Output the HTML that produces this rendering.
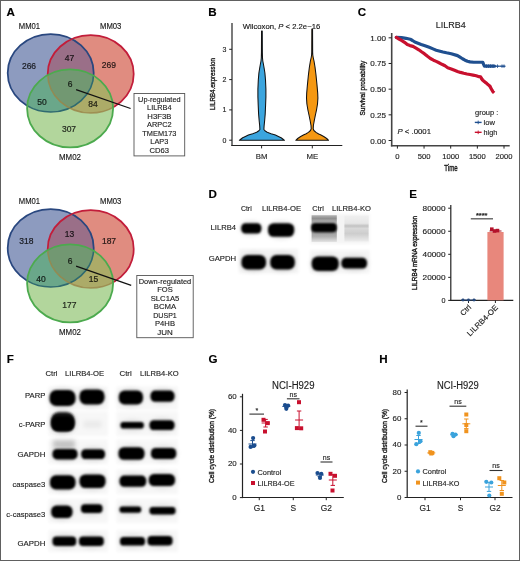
<!DOCTYPE html><html><head><meta charset="utf-8"><style>html,body{margin:0;padding:0;background:#fff;}svg{display:block;font-family:"Liberation Sans",sans-serif;opacity:0.999;}text{stroke:currentColor;stroke-width:0.14px;}</style></head><body>
<svg width="520" height="561" viewBox="0 0 520 561">
<defs><filter id="bl" x="-30%" y="-60%" width="160%" height="220%"><feGaussianBlur stdDeviation="1.1"/></filter><filter id="bl2" x="-30%" y="-60%" width="160%" height="220%"><feGaussianBlur stdDeviation="2.2"/></filter><filter id="bl3" x="-30%" y="-60%" width="160%" height="220%"><feGaussianBlur stdDeviation="0.6"/></filter><filter id="bl4" x="-30%" y="-60%" width="160%" height="220%"><feGaussianBlur stdDeviation="1.6"/></filter></defs>
<rect x="0.00" y="0.00" width="520.00" height="561.00" fill="#ffffff"/>
<text x="6.60" y="16.20" font-size="11.6" font-weight="bold" fill="#000" color="#000">A</text>
<text x="208.30" y="16.20" font-size="11.6" font-weight="bold" fill="#000" color="#000">B</text>
<text x="357.70" y="16.20" font-size="11.6" font-weight="bold" fill="#000" color="#000">C</text>
<text x="208.50" y="197.70" font-size="11.6" font-weight="bold" fill="#000" color="#000">D</text>
<text x="409.30" y="198.20" font-size="11.6" font-weight="bold" fill="#000" color="#000">E</text>
<text x="6.80" y="362.60" font-size="11.6" font-weight="bold" fill="#000" color="#000">F</text>
<text x="208.40" y="363.00" font-size="11.6" font-weight="bold" fill="#000" color="#000">G</text>
<text x="379.20" y="363.00" font-size="11.6" font-weight="bold" fill="#000" color="#000">H</text>
<clipPath id="cbt"><ellipse cx="50.7" cy="73.00" rx="43.0" ry="39.0"/></clipPath>
<clipPath id="crt"><ellipse cx="90.7" cy="74.10" rx="43.0" ry="39.0"/></clipPath>
<ellipse cx="50.7" cy="73.00" rx="43.0" ry="39.0" fill="#8d9bbf"/>
<ellipse cx="90.7" cy="74.10" rx="43.0" ry="39.0" fill="#e08c80"/>
<ellipse cx="70.1" cy="108.40" rx="43.0" ry="39.0" fill="#b2d69c"/>
<g clip-path="url(#cbt)"><ellipse cx="90.7" cy="74.10" rx="43.0" ry="39.0" fill="#9a6f88"/><ellipse cx="70.1" cy="108.40" rx="43.0" ry="39.0" fill="#6aa78a"/></g>
<g clip-path="url(#crt)"><ellipse cx="70.1" cy="108.40" rx="43.0" ry="39.0" fill="#acab68"/><g clip-path="url(#cbt)"><ellipse cx="70.1" cy="108.40" rx="43.0" ry="39.0" fill="#729872"/></g></g>
<mask id="mgt" maskUnits="userSpaceOnUse" x="0" y="0" width="520" height="561"><rect x="0" y="0" width="520" height="561" fill="#fff"/><ellipse cx="70.1" cy="108.40" rx="43.0" ry="39.0" fill="#000"/></mask>
<clipPath id="cgt"><ellipse cx="70.1" cy="108.40" rx="43.0" ry="39.0"/></clipPath>
<g mask="url(#mgt)"><ellipse cx="50.7" cy="73.00" rx="43.0" ry="39.0" fill="none" stroke="#29477f" stroke-width="1.75"/><ellipse cx="90.7" cy="74.10" rx="43.0" ry="39.0" fill="none" stroke="#c21d3a" stroke-width="1.75"/></g>
<g clip-path="url(#cgt)" opacity="1"><ellipse cx="50.7" cy="73.00" rx="43.0" ry="39.0" fill="none" stroke="#2f6a70" stroke-width="1.6"/><ellipse cx="90.7" cy="74.10" rx="43.0" ry="39.0" fill="none" stroke="#9a8448" stroke-width="1.5" stroke-opacity="0.8"/></g>
<ellipse cx="70.1" cy="108.40" rx="43.0" ry="39.0" fill="none" stroke="#4caa4e" stroke-width="1.8"/>
<text x="18.80" y="28.90" font-size="8.4" textLength="21.30" lengthAdjust="spacingAndGlyphs" fill="#1a1a1a" color="#1a1a1a">MM01</text>
<text x="100.00" y="28.90" font-size="8.4" textLength="21.40" lengthAdjust="spacingAndGlyphs" fill="#1a1a1a" color="#1a1a1a">MM03</text>
<text x="59.00" y="160.00" font-size="8.4" textLength="22.00" lengthAdjust="spacingAndGlyphs" fill="#1a1a1a" color="#1a1a1a">MM02</text>
<text x="29.00" y="69.00" font-size="8.5" text-anchor="middle" fill="#000" color="#000" style="stroke-width:0.22px" fill-opacity="0.78" stroke-opacity="0.78">266</text>
<text x="69.60" y="61.20" font-size="8.5" text-anchor="middle" fill="#000" color="#000" style="stroke-width:0.22px" fill-opacity="0.78" stroke-opacity="0.78">47</text>
<text x="108.90" y="68.10" font-size="8.5" text-anchor="middle" fill="#000" color="#000" style="stroke-width:0.22px" fill-opacity="0.78" stroke-opacity="0.78">269</text>
<text x="70.00" y="87.40" font-size="8.5" text-anchor="middle" fill="#000" color="#000" style="stroke-width:0.22px" fill-opacity="0.78" stroke-opacity="0.78">6</text>
<text x="42.00" y="105.00" font-size="8.5" text-anchor="middle" fill="#000" color="#000" style="stroke-width:0.22px" fill-opacity="0.78" stroke-opacity="0.78">50</text>
<text x="93.10" y="106.70" font-size="8.5" text-anchor="middle" fill="#000" color="#000" style="stroke-width:0.22px" fill-opacity="0.78" stroke-opacity="0.78">84</text>
<text x="69.00" y="132.20" font-size="8.5" text-anchor="middle" fill="#000" color="#000" style="stroke-width:0.22px" fill-opacity="0.78" stroke-opacity="0.78">307</text>
<line x1="76.10" y1="89.70" x2="130.60" y2="108.50" stroke="#111" stroke-width="1.25"/>
<rect x="134.00" y="93.50" width="50.70" height="62.40" fill="#fff" stroke="#555" stroke-width="0.9"/>
<text x="159.35" y="101.60" font-size="7.9" text-anchor="middle" textLength="42.50" lengthAdjust="spacingAndGlyphs" fill="#1e1e1e" color="#1e1e1e">Up-regulated</text>
<text x="159.35" y="110.15" font-size="7.9" text-anchor="middle" textLength="24.50" lengthAdjust="spacingAndGlyphs" fill="#1e1e1e" color="#1e1e1e">LILRB4</text>
<text x="159.35" y="118.70" font-size="7.9" text-anchor="middle" textLength="24.00" lengthAdjust="spacingAndGlyphs" fill="#1e1e1e" color="#1e1e1e">H3F3B</text>
<text x="159.35" y="127.25" font-size="7.9" text-anchor="middle" textLength="24.50" lengthAdjust="spacingAndGlyphs" fill="#1e1e1e" color="#1e1e1e">ARPC2</text>
<text x="159.35" y="135.80" font-size="7.9" text-anchor="middle" textLength="34.00" lengthAdjust="spacingAndGlyphs" fill="#1e1e1e" color="#1e1e1e">TMEM173</text>
<text x="159.35" y="144.35" font-size="7.9" text-anchor="middle" textLength="18.00" lengthAdjust="spacingAndGlyphs" fill="#1e1e1e" color="#1e1e1e">LAP3</text>
<text x="159.35" y="152.90" font-size="7.9" text-anchor="middle" textLength="19.50" lengthAdjust="spacingAndGlyphs" fill="#1e1e1e" color="#1e1e1e">CD63</text>
<clipPath id="cbb"><ellipse cx="50.7" cy="248.00" rx="43.0" ry="39.0"/></clipPath>
<clipPath id="crb"><ellipse cx="90.7" cy="249.10" rx="43.0" ry="39.0"/></clipPath>
<ellipse cx="50.7" cy="248.00" rx="43.0" ry="39.0" fill="#8d9bbf"/>
<ellipse cx="90.7" cy="249.10" rx="43.0" ry="39.0" fill="#e08c80"/>
<ellipse cx="70.1" cy="283.40" rx="43.0" ry="39.0" fill="#b2d69c"/>
<g clip-path="url(#cbb)"><ellipse cx="90.7" cy="249.10" rx="43.0" ry="39.0" fill="#9a6f88"/><ellipse cx="70.1" cy="283.40" rx="43.0" ry="39.0" fill="#6aa78a"/></g>
<g clip-path="url(#crb)"><ellipse cx="70.1" cy="283.40" rx="43.0" ry="39.0" fill="#acab68"/><g clip-path="url(#cbb)"><ellipse cx="70.1" cy="283.40" rx="43.0" ry="39.0" fill="#729872"/></g></g>
<mask id="mgb" maskUnits="userSpaceOnUse" x="0" y="0" width="520" height="561"><rect x="0" y="0" width="520" height="561" fill="#fff"/><ellipse cx="70.1" cy="283.40" rx="43.0" ry="39.0" fill="#000"/></mask>
<clipPath id="cgb"><ellipse cx="70.1" cy="283.40" rx="43.0" ry="39.0"/></clipPath>
<g mask="url(#mgb)"><ellipse cx="50.7" cy="248.00" rx="43.0" ry="39.0" fill="none" stroke="#29477f" stroke-width="1.75"/><ellipse cx="90.7" cy="249.10" rx="43.0" ry="39.0" fill="none" stroke="#c21d3a" stroke-width="1.75"/></g>
<g clip-path="url(#cgb)" opacity="1"><ellipse cx="50.7" cy="248.00" rx="43.0" ry="39.0" fill="none" stroke="#2f6a70" stroke-width="1.6"/><ellipse cx="90.7" cy="249.10" rx="43.0" ry="39.0" fill="none" stroke="#9a8448" stroke-width="1.5" stroke-opacity="0.8"/></g>
<ellipse cx="70.1" cy="283.40" rx="43.0" ry="39.0" fill="none" stroke="#4caa4e" stroke-width="1.8"/>
<text x="18.80" y="203.90" font-size="8.4" textLength="21.30" lengthAdjust="spacingAndGlyphs" fill="#1a1a1a" color="#1a1a1a">MM01</text>
<text x="100.00" y="203.90" font-size="8.4" textLength="21.40" lengthAdjust="spacingAndGlyphs" fill="#1a1a1a" color="#1a1a1a">MM03</text>
<text x="59.00" y="335.00" font-size="8.4" textLength="22.00" lengthAdjust="spacingAndGlyphs" fill="#1a1a1a" color="#1a1a1a">MM02</text>
<text x="26.30" y="244.20" font-size="8.5" text-anchor="middle" fill="#000" color="#000" style="stroke-width:0.22px" fill-opacity="0.78" stroke-opacity="0.78">318</text>
<text x="69.60" y="237.20" font-size="8.5" text-anchor="middle" fill="#000" color="#000" style="stroke-width:0.22px" fill-opacity="0.78" stroke-opacity="0.78">13</text>
<text x="109.00" y="243.70" font-size="8.5" text-anchor="middle" fill="#000" color="#000" style="stroke-width:0.22px" fill-opacity="0.78" stroke-opacity="0.78">187</text>
<text x="70.00" y="263.70" font-size="8.5" text-anchor="middle" fill="#000" color="#000" style="stroke-width:0.22px" fill-opacity="0.78" stroke-opacity="0.78">6</text>
<text x="41.10" y="281.70" font-size="8.5" text-anchor="middle" fill="#000" color="#000" style="stroke-width:0.22px" fill-opacity="0.78" stroke-opacity="0.78">40</text>
<text x="93.50" y="282.00" font-size="8.5" text-anchor="middle" fill="#000" color="#000" style="stroke-width:0.22px" fill-opacity="0.78" stroke-opacity="0.78">15</text>
<text x="69.40" y="308.00" font-size="8.5" text-anchor="middle" fill="#000" color="#000" style="stroke-width:0.22px" fill-opacity="0.78" stroke-opacity="0.78">177</text>
<line x1="76.10" y1="266.20" x2="131.20" y2="285.30" stroke="#111" stroke-width="1.25"/>
<rect x="136.80" y="275.50" width="56.40" height="62.20" fill="#fff" stroke="#555" stroke-width="0.9"/>
<text x="165.00" y="283.60" font-size="7.9" text-anchor="middle" textLength="52.50" lengthAdjust="spacingAndGlyphs" fill="#1e1e1e" color="#1e1e1e">Down-regulated</text>
<text x="165.00" y="292.15" font-size="7.9" text-anchor="middle" textLength="15.50" lengthAdjust="spacingAndGlyphs" fill="#1e1e1e" color="#1e1e1e">FOS</text>
<text x="165.00" y="300.70" font-size="7.9" text-anchor="middle" textLength="28.50" lengthAdjust="spacingAndGlyphs" fill="#1e1e1e" color="#1e1e1e">SLC1A5</text>
<text x="165.00" y="309.25" font-size="7.9" text-anchor="middle" textLength="22.50" lengthAdjust="spacingAndGlyphs" fill="#1e1e1e" color="#1e1e1e">BCMA</text>
<text x="165.00" y="317.80" font-size="7.9" text-anchor="middle" textLength="23.50" lengthAdjust="spacingAndGlyphs" fill="#1e1e1e" color="#1e1e1e">DUSP1</text>
<text x="165.00" y="326.35" font-size="7.9" text-anchor="middle" textLength="20.00" lengthAdjust="spacingAndGlyphs" fill="#1e1e1e" color="#1e1e1e">P4HB</text>
<text x="165.00" y="334.90" font-size="7.9" text-anchor="middle" textLength="15.50" lengthAdjust="spacingAndGlyphs" fill="#1e1e1e" color="#1e1e1e">JUN</text>
<line x1="232.00" y1="23.00" x2="232.00" y2="146.10" stroke="#222" stroke-width="1.2"/>
<line x1="231.40" y1="145.50" x2="342.30" y2="145.50" stroke="#222" stroke-width="1.2"/>
<line x1="229.20" y1="140.20" x2="232.00" y2="140.20" stroke="#222" stroke-width="1"/>
<text x="226.30" y="142.60" font-size="7.0" text-anchor="end" fill="#1e1e1e" color="#1e1e1e">0</text>
<line x1="229.20" y1="109.90" x2="232.00" y2="109.90" stroke="#222" stroke-width="1"/>
<text x="226.30" y="112.30" font-size="7.0" text-anchor="end" fill="#1e1e1e" color="#1e1e1e">1</text>
<line x1="229.20" y1="79.60" x2="232.00" y2="79.60" stroke="#222" stroke-width="1"/>
<text x="226.30" y="82.00" font-size="7.0" text-anchor="end" fill="#1e1e1e" color="#1e1e1e">2</text>
<line x1="229.20" y1="49.30" x2="232.00" y2="49.30" stroke="#222" stroke-width="1"/>
<text x="226.30" y="51.70" font-size="7.0" text-anchor="end" fill="#1e1e1e" color="#1e1e1e">3</text>
<line x1="261.60" y1="145.50" x2="261.60" y2="148.40" stroke="#222" stroke-width="1"/>
<text x="261.60" y="158.80" font-size="7.8" text-anchor="middle" fill="#1e1e1e" color="#1e1e1e">BM</text>
<line x1="312.30" y1="145.50" x2="312.30" y2="148.40" stroke="#222" stroke-width="1"/>
<text x="312.30" y="158.80" font-size="7.8" text-anchor="middle" fill="#1e1e1e" color="#1e1e1e">ME</text>
<text transform="translate(215.2,84.1) rotate(-90)" font-size="7.2" text-anchor="middle" fill="#1a1a1a" color="#1a1a1a" style="stroke-width:0.35px" textLength="52" lengthAdjust="spacingAndGlyphs">LILRB4.expression</text>
<text x="242.8" y="28.7" font-size="7.6" fill="#222" textLength="77.4" lengthAdjust="spacingAndGlyphs">Wilcoxon, <tspan font-style="italic">P</tspan> &lt; 2.2e−16</text>
<path d="M261.55,31.10 L261.45,52.00 L261.30,58.00 L261.00,61.00 L260.40,64.00 L259.70,68.00 L258.90,73.00 L258.30,80.00 L257.90,89.00 L257.90,97.00 L258.20,105.00 L258.60,114.00 L259.10,120.00 L259.70,126.00 L259.90,129.50 L258.90,130.80 L256.60,132.30 L252.70,133.70 L248.40,135.10 L245.40,136.50 L242.70,137.80 L240.70,139.20 L239.30,140.30 L284.50,140.30 L283.10,139.20 L281.10,137.80 L278.40,136.50 L275.40,135.10 L271.10,133.70 L267.20,132.30 L264.90,130.80 L263.90,129.50 L264.10,126.00 L264.70,120.00 L265.20,114.00 L265.60,105.00 L265.90,97.00 L265.90,89.00 L265.50,80.00 L264.90,73.00 L264.10,68.00 L263.40,64.00 L262.80,61.00 L262.50,58.00 L262.35,52.00 L262.25,31.10 Z" fill="#3ba5de" stroke="#111" stroke-width="1.05" stroke-linejoin="round"/>
<path d="M311.85,28.90 L311.75,52.00 L311.60,55.00 L311.20,57.50 L310.40,61.00 L309.40,67.00 L308.40,75.00 L307.40,85.00 L306.70,93.00 L306.50,98.00 L306.90,104.00 L307.90,110.00 L309.20,116.00 L310.20,121.00 L311.00,125.50 L311.20,128.80 L310.50,130.50 L308.40,132.40 L305.70,134.00 L303.90,134.80 L300.70,136.50 L297.70,138.50 L295.80,140.30 L328.60,140.30 L326.70,138.50 L323.70,136.50 L320.50,134.80 L318.70,134.00 L316.00,132.40 L313.90,130.50 L313.20,128.80 L313.40,125.50 L314.20,121.00 L315.20,116.00 L316.50,110.00 L317.50,104.00 L317.90,98.00 L317.70,93.00 L317.00,85.00 L316.00,75.00 L315.00,67.00 L314.00,61.00 L313.20,57.50 L312.80,55.00 L312.65,52.00 L312.55,28.90 Z" fill="#f59812" stroke="#111" stroke-width="1.05" stroke-linejoin="round"/>
<line x1="391.70" y1="33.00" x2="391.70" y2="146.40" stroke="#444" stroke-width="1.6"/>
<line x1="390.90" y1="145.80" x2="509.70" y2="145.80" stroke="#444" stroke-width="1.6"/>
<line x1="388.60" y1="140.50" x2="391.60" y2="140.50" stroke="#222" stroke-width="1"/>
<text x="370.30" y="143.50" font-size="7.4" textLength="15.80" lengthAdjust="spacingAndGlyphs" fill="#1e1e1e" color="#1e1e1e">0.00</text>
<line x1="388.60" y1="114.83" x2="391.60" y2="114.83" stroke="#222" stroke-width="1"/>
<text x="370.30" y="117.83" font-size="7.4" textLength="15.80" lengthAdjust="spacingAndGlyphs" fill="#1e1e1e" color="#1e1e1e">0.25</text>
<line x1="388.60" y1="89.16" x2="391.60" y2="89.16" stroke="#222" stroke-width="1"/>
<text x="370.30" y="92.16" font-size="7.4" textLength="15.80" lengthAdjust="spacingAndGlyphs" fill="#1e1e1e" color="#1e1e1e">0.50</text>
<line x1="388.60" y1="63.49" x2="391.60" y2="63.49" stroke="#222" stroke-width="1"/>
<text x="370.30" y="66.49" font-size="7.4" textLength="15.80" lengthAdjust="spacingAndGlyphs" fill="#1e1e1e" color="#1e1e1e">0.75</text>
<line x1="388.60" y1="37.82" x2="391.60" y2="37.82" stroke="#222" stroke-width="1"/>
<text x="370.30" y="40.82" font-size="7.4" textLength="15.80" lengthAdjust="spacingAndGlyphs" fill="#1e1e1e" color="#1e1e1e">1.00</text>
<line x1="397.40" y1="145.80" x2="397.40" y2="148.60" stroke="#222" stroke-width="1"/>
<text x="395.25" y="158.90" font-size="7.3" textLength="4.30" lengthAdjust="spacingAndGlyphs" fill="#1e1e1e" color="#1e1e1e">0</text>
<line x1="424.05" y1="145.80" x2="424.05" y2="148.60" stroke="#222" stroke-width="1"/>
<text x="417.65" y="158.90" font-size="7.3" textLength="12.80" lengthAdjust="spacingAndGlyphs" fill="#1e1e1e" color="#1e1e1e">500</text>
<line x1="450.70" y1="145.80" x2="450.70" y2="148.60" stroke="#222" stroke-width="1"/>
<text x="442.25" y="158.90" font-size="7.3" textLength="16.90" lengthAdjust="spacingAndGlyphs" fill="#1e1e1e" color="#1e1e1e">1000</text>
<line x1="477.35" y1="145.80" x2="477.35" y2="148.60" stroke="#222" stroke-width="1"/>
<text x="468.90" y="158.90" font-size="7.3" textLength="16.90" lengthAdjust="spacingAndGlyphs" fill="#1e1e1e" color="#1e1e1e">1500</text>
<line x1="504.00" y1="145.80" x2="504.00" y2="148.60" stroke="#222" stroke-width="1"/>
<text x="495.55" y="158.90" font-size="7.3" textLength="16.90" lengthAdjust="spacingAndGlyphs" fill="#1e1e1e" color="#1e1e1e">2000</text>
<text x="444.30" y="170.80" font-size="9.2" textLength="13.30" lengthAdjust="spacingAndGlyphs" fill="#1a1a1a" color="#1a1a1a" style="stroke-width:0.4px">Time</text>
<text transform="translate(365.2,88.1) rotate(-90)" font-size="8" text-anchor="middle" fill="#1a1a1a" color="#1a1a1a" style="stroke-width:0.35px" textLength="55" lengthAdjust="spacingAndGlyphs">Survival probability</text>
<text x="435.70" y="27.60" font-size="9.6" textLength="30.00" lengthAdjust="spacingAndGlyphs" fill="#1e1e1e" color="#1e1e1e">LILRB4</text>
<text x="397.5" y="134.2" font-size="8" fill="#222" textLength="33.5" lengthAdjust="spacingAndGlyphs"><tspan font-style="italic">P</tspan> &lt; .0001</text>
<text x="475.00" y="115.30" font-size="7.4" textLength="23.40" lengthAdjust="spacingAndGlyphs" fill="#1e1e1e" color="#1e1e1e">group :</text>
<text x="483.60" y="124.90" font-size="7.4" textLength="11.40" lengthAdjust="spacingAndGlyphs" fill="#1e1e1e" color="#1e1e1e">low</text>
<text x="483.60" y="134.80" font-size="7.4" textLength="13.70" lengthAdjust="spacingAndGlyphs" fill="#1e1e1e" color="#1e1e1e">high</text>
<line x1="474.80" y1="122.40" x2="481.60" y2="122.40" stroke="#1f4f8f" stroke-width="1.4"/>
<line x1="478.20" y1="120.60" x2="478.20" y2="124.20" stroke="#1f4f8f" stroke-width="0.9"/>
<line x1="474.80" y1="132.30" x2="481.60" y2="132.30" stroke="#c8102e" stroke-width="1.4"/>
<line x1="478.20" y1="130.50" x2="478.20" y2="134.10" stroke="#c8102e" stroke-width="0.9"/>
<line x1="494.00" y1="66.20" x2="505.00" y2="66.20" stroke="#1f4f8f" stroke-width="1.1"/>
<path d="M396.30,37.40 L401.50,37.70 L406.00,38.30 L410.20,39.20 L412.50,40.50 L414.80,42.00 L418.00,43.20 L421.20,44.40 L425.00,45.70 L429.20,47.30 L433.00,48.90 L436.20,50.20 L440.00,51.20 L443.00,52.00 L446.50,52.80 L451.25,53.75 L457.50,55.60 L460.00,57.20 L462.50,58.75 L465.00,60.20 L467.50,61.25 L470.00,61.90 L473.75,62.25 L482.80,62.25 L483.60,64.40 L484.40,66.20 L494.50,66.20" fill="none" stroke="#1f4f8f" stroke-width="3.2" stroke-linejoin="round" stroke-linecap="round"/>
<path d="M396.30,37.40 L399.00,39.00 L401.50,40.40 L404.50,42.30 L407.30,44.60 L410.00,45.60 L413.00,46.40 L416.00,48.10 L418.80,49.80 L421.50,51.80 L424.60,53.90 L427.50,56.30 L430.40,58.50 L433.50,60.20 L436.20,61.40 L439.00,62.80 L441.90,64.30 L445.00,65.80 L447.70,67.70 L451.25,68.90 L454.50,70.20 L457.50,71.40 L460.50,72.40 L463.75,73.30 L467.00,74.00 L470.00,74.55 L473.00,75.10 L476.25,75.80 L479.00,76.70 L480.60,76.90 L481.50,78.50 L482.50,80.00 L484.30,81.50 L486.25,83.10 L488.00,84.60 L490.00,86.25 L490.80,88.00 L491.90,90.00 L493.10,92.00" fill="none" stroke="#c8102e" stroke-width="3.2" stroke-linejoin="round" stroke-linecap="round"/>
<line x1="484.70" y1="66.20" x2="488.30" y2="66.20" stroke="#1f4f8f" stroke-width="0.8"/>
<line x1="486.50" y1="64.40" x2="486.50" y2="68.00" stroke="#1f4f8f" stroke-width="0.8"/>
<line x1="486.70" y1="66.20" x2="490.30" y2="66.20" stroke="#1f4f8f" stroke-width="0.8"/>
<line x1="488.50" y1="64.40" x2="488.50" y2="68.00" stroke="#1f4f8f" stroke-width="0.8"/>
<line x1="488.70" y1="66.20" x2="492.30" y2="66.20" stroke="#1f4f8f" stroke-width="0.8"/>
<line x1="490.50" y1="64.40" x2="490.50" y2="68.00" stroke="#1f4f8f" stroke-width="0.8"/>
<line x1="491.20" y1="66.20" x2="494.80" y2="66.20" stroke="#1f4f8f" stroke-width="0.8"/>
<line x1="493.00" y1="64.40" x2="493.00" y2="68.00" stroke="#1f4f8f" stroke-width="0.8"/>
<line x1="495.70" y1="66.20" x2="499.30" y2="66.20" stroke="#1f4f8f" stroke-width="0.8"/>
<line x1="497.50" y1="64.40" x2="497.50" y2="68.00" stroke="#1f4f8f" stroke-width="0.8"/>
<line x1="500.20" y1="66.20" x2="503.80" y2="66.20" stroke="#1f4f8f" stroke-width="0.8"/>
<line x1="502.00" y1="64.40" x2="502.00" y2="68.00" stroke="#1f4f8f" stroke-width="0.8"/>
<line x1="502.20" y1="66.20" x2="505.80" y2="66.20" stroke="#1f4f8f" stroke-width="0.8"/>
<line x1="504.00" y1="64.40" x2="504.00" y2="68.00" stroke="#1f4f8f" stroke-width="0.8"/>
<line x1="480.40" y1="79.00" x2="483.60" y2="79.00" stroke="#c8102e" stroke-width="0.8"/>
<line x1="482.00" y1="77.40" x2="482.00" y2="80.60" stroke="#c8102e" stroke-width="0.8"/>
<line x1="482.90" y1="81.80" x2="486.10" y2="81.80" stroke="#c8102e" stroke-width="0.8"/>
<line x1="484.50" y1="80.20" x2="484.50" y2="83.40" stroke="#c8102e" stroke-width="0.8"/>
<line x1="485.20" y1="83.60" x2="488.40" y2="83.60" stroke="#c8102e" stroke-width="0.8"/>
<line x1="486.80" y1="82.00" x2="486.80" y2="85.20" stroke="#c8102e" stroke-width="0.8"/>
<line x1="487.10" y1="85.20" x2="490.30" y2="85.20" stroke="#c8102e" stroke-width="0.8"/>
<line x1="488.70" y1="83.60" x2="488.70" y2="86.80" stroke="#c8102e" stroke-width="0.8"/>
<line x1="488.90" y1="87.50" x2="492.10" y2="87.50" stroke="#c8102e" stroke-width="0.8"/>
<line x1="490.50" y1="85.90" x2="490.50" y2="89.10" stroke="#c8102e" stroke-width="0.8"/>
<line x1="490.10" y1="89.50" x2="493.30" y2="89.50" stroke="#c8102e" stroke-width="0.8"/>
<line x1="491.70" y1="87.90" x2="491.70" y2="91.10" stroke="#c8102e" stroke-width="0.8"/>
<line x1="491.90" y1="91.50" x2="495.10" y2="91.50" stroke="#c8102e" stroke-width="0.8"/>
<line x1="493.50" y1="89.90" x2="493.50" y2="93.10" stroke="#c8102e" stroke-width="0.8"/>
<text x="240.90" y="211.00" font-size="7.6" textLength="10.80" lengthAdjust="spacingAndGlyphs" fill="#1e1e1e" color="#1e1e1e">Ctrl</text>
<text x="261.90" y="211.00" font-size="7.6" textLength="39.10" lengthAdjust="spacingAndGlyphs" fill="#1e1e1e" color="#1e1e1e">LILRB4-OE</text>
<text x="312.30" y="211.00" font-size="7.6" textLength="11.50" lengthAdjust="spacingAndGlyphs" fill="#1e1e1e" color="#1e1e1e">Ctrl</text>
<text x="332.00" y="211.00" font-size="7.6" textLength="39.00" lengthAdjust="spacingAndGlyphs" fill="#1e1e1e" color="#1e1e1e">LILRB4-KO</text>
<text x="236.00" y="229.90" font-size="7.9" text-anchor="end" textLength="25.40" lengthAdjust="spacingAndGlyphs" fill="#1e1e1e" color="#1e1e1e">LILRB4</text>
<text x="236.20" y="261.10" font-size="7.9" text-anchor="end" textLength="27.50" lengthAdjust="spacingAndGlyphs" fill="#1e1e1e" color="#1e1e1e">GAPDH</text>
<rect x="239.00" y="249.00" width="59.30" height="24.30" fill="#f3f3f3" filter="url(#bl4)"/>
<rect x="310.40" y="214.00" width="59.20" height="29.70" fill="#f4f4f4" filter="url(#bl4)"/>
<rect x="310.00" y="250.00" width="59.60" height="23.30" fill="#f5f5f5" filter="url(#bl4)"/>
<ellipse cx="251.30" cy="228.30" rx="11.60" ry="7.60" fill="#000" fill-opacity="0.10" filter="url(#bl2)"/>
<rect x="241.20" y="223.20" width="20.20" height="10.20" rx="4.28" fill="#000" fill-opacity="1.0" filter="url(#bl)"/>
<ellipse cx="281.10" cy="230.00" rx="14.60" ry="9.30" fill="#000" fill-opacity="0.10" filter="url(#bl2)"/>
<rect x="268.00" y="223.20" width="26.20" height="13.60" rx="5.71" fill="#000" fill-opacity="1.0" filter="url(#bl)"/>
<ellipse cx="253.75" cy="262.30" rx="13.75" ry="9.80" fill="#000" fill-opacity="0.10" filter="url(#bl2)"/>
<rect x="241.50" y="255.00" width="24.50" height="14.60" rx="6.13" fill="#000" fill-opacity="1.0" filter="url(#bl)"/>
<ellipse cx="282.55" cy="262.30" rx="13.75" ry="9.80" fill="#000" fill-opacity="0.10" filter="url(#bl2)"/>
<rect x="270.30" y="255.00" width="24.50" height="14.60" rx="6.13" fill="#000" fill-opacity="1.0" filter="url(#bl)"/>
<linearGradient id="gko1" x1="0" y1="0" x2="0" y2="1"><stop offset="0" stop-color="#b4b4b4"/><stop offset="0.12" stop-color="#8e8e8e"/><stop offset="0.3" stop-color="#bdbdbd"/><stop offset="0.6" stop-color="#9a9a9a"/><stop offset="0.8" stop-color="#b0b0b0"/><stop offset="1" stop-color="#e4e4e4"/></linearGradient>
<linearGradient id="gko2" x1="0" y1="0" x2="0" y2="1"><stop offset="0" stop-color="#f0f0f0"/><stop offset="0.3" stop-color="#e6e6e6"/><stop offset="0.4" stop-color="#c2c2c2"/><stop offset="0.5" stop-color="#d8d8d8"/><stop offset="0.7" stop-color="#cdcdcd"/><stop offset="1" stop-color="#ececec"/></linearGradient>
<rect x="311.6" y="215.2" width="25.2" height="26.8" fill="url(#gko1)" filter="url(#bl3)"/>
<rect x="344.4" y="215.5" width="24.2" height="26.0" fill="url(#gko2)" filter="url(#bl3)"/>
<rect x="311.20" y="223.00" width="25.60" height="9.20" rx="3.86" fill="#000" fill-opacity="1.0" filter="url(#bl)"/>
<ellipse cx="325.20" cy="263.70" rx="15.00" ry="9.80" fill="#000" fill-opacity="0.10" filter="url(#bl2)"/>
<rect x="311.70" y="256.40" width="27.00" height="14.60" rx="6.13" fill="#000" fill-opacity="1.0" filter="url(#bl)"/>
<ellipse cx="354.20" cy="263.20" rx="14.30" ry="7.90" fill="#000" fill-opacity="0.10" filter="url(#bl2)"/>
<rect x="341.40" y="257.80" width="25.60" height="10.80" rx="4.54" fill="#000" fill-opacity="1.0" filter="url(#bl)"/>
<line x1="450.80" y1="205.00" x2="450.80" y2="300.90" stroke="#222" stroke-width="1.2"/>
<line x1="450.20" y1="300.30" x2="513.30" y2="300.30" stroke="#222" stroke-width="1.2"/>
<line x1="448.20" y1="300.40" x2="450.80" y2="300.40" stroke="#222" stroke-width="1"/>
<text x="445.50" y="302.90" font-size="7.2" text-anchor="end" fill="#1e1e1e" color="#1e1e1e">0</text>
<line x1="448.20" y1="277.35" x2="450.80" y2="277.35" stroke="#222" stroke-width="1"/>
<text x="422.60" y="279.85" font-size="7.2" textLength="22.90" lengthAdjust="spacingAndGlyphs" fill="#1e1e1e" color="#1e1e1e">20000</text>
<line x1="448.20" y1="254.30" x2="450.80" y2="254.30" stroke="#222" stroke-width="1"/>
<text x="422.60" y="256.80" font-size="7.2" textLength="22.90" lengthAdjust="spacingAndGlyphs" fill="#1e1e1e" color="#1e1e1e">40000</text>
<line x1="448.20" y1="231.25" x2="450.80" y2="231.25" stroke="#222" stroke-width="1"/>
<text x="422.60" y="233.75" font-size="7.2" textLength="22.90" lengthAdjust="spacingAndGlyphs" fill="#1e1e1e" color="#1e1e1e">60000</text>
<line x1="448.20" y1="208.20" x2="450.80" y2="208.20" stroke="#222" stroke-width="1"/>
<text x="422.60" y="210.70" font-size="7.2" textLength="22.90" lengthAdjust="spacingAndGlyphs" fill="#1e1e1e" color="#1e1e1e">80000</text>
<rect x="487.40" y="232.00" width="16.20" height="68.30" fill="#e8877c"/>
<line x1="489.50" y1="231.00" x2="501.50" y2="231.00" stroke="#a0182a" stroke-width="1.0"/>
<rect x="490.00" y="227.40" width="3.60" height="3.60" fill="#b3132b"/>
<rect x="492.70" y="229.20" width="3.60" height="3.60" fill="#b3132b"/>
<rect x="495.70" y="228.80" width="3.60" height="3.60" fill="#b3132b"/>
<line x1="470.80" y1="218.80" x2="493.00" y2="218.80" stroke="#555" stroke-width="1.3"/>
<text x="476.00" y="217.60" font-size="7.6" textLength="11.50" lengthAdjust="spacingAndGlyphs" font-weight="bold" fill="#1e1e1e" color="#1e1e1e">****</text>
<line x1="468.50" y1="300.30" x2="468.50" y2="303.00" stroke="#222" stroke-width="1"/>
<line x1="495.40" y1="300.30" x2="495.40" y2="303.00" stroke="#222" stroke-width="1"/>
<circle cx="463.0" cy="300.0" r="1.4" fill="#25477a"/>
<circle cx="468.5" cy="300.0" r="1.4" fill="#25477a"/>
<circle cx="474.0" cy="300.0" r="1.4" fill="#25477a"/>
<line x1="461.00" y1="300.00" x2="476.00" y2="300.00" stroke="#25477a" stroke-width="1.0"/>
<text transform="translate(471.6,307.8) rotate(-45)" font-size="7.6" text-anchor="end" fill="#1a1a1a" color="#1a1a1a">Ctrl</text>
<text transform="translate(498.6,308.1) rotate(-45)" font-size="7.6" text-anchor="end" fill="#1a1a1a" color="#1a1a1a" textLength="40.5" lengthAdjust="spacingAndGlyphs">LILRB4-OE</text>
<text transform="translate(417.3,253) rotate(-90)" font-size="7.7" text-anchor="middle" fill="#1a1a1a" color="#1a1a1a" style="stroke-width:0.4px" textLength="74" lengthAdjust="spacingAndGlyphs">LILRB4 mRNA expression</text>
<text x="45.50" y="375.80" font-size="7.6" textLength="12.00" lengthAdjust="spacingAndGlyphs" fill="#1e1e1e" color="#1e1e1e">Ctrl</text>
<text x="65.00" y="375.80" font-size="7.6" textLength="39.20" lengthAdjust="spacingAndGlyphs" fill="#1e1e1e" color="#1e1e1e">LILRB4-OE</text>
<text x="119.50" y="375.80" font-size="7.6" textLength="12.20" lengthAdjust="spacingAndGlyphs" fill="#1e1e1e" color="#1e1e1e">Ctrl</text>
<text x="140.00" y="375.80" font-size="7.6" textLength="38.70" lengthAdjust="spacingAndGlyphs" fill="#1e1e1e" color="#1e1e1e">LILRB4-KO</text>
<text x="25.00" y="397.90" font-size="8.0" textLength="20.30" lengthAdjust="spacingAndGlyphs" fill="#1e1e1e" color="#1e1e1e">PARP</text>
<text x="18.80" y="427.40" font-size="8.0" textLength="26.50" lengthAdjust="spacingAndGlyphs" fill="#1e1e1e" color="#1e1e1e">c-PARP</text>
<text x="17.50" y="456.70" font-size="8.0" textLength="27.80" lengthAdjust="spacingAndGlyphs" fill="#1e1e1e" color="#1e1e1e">GAPDH</text>
<text x="12.50" y="486.70" font-size="8.0" textLength="32.80" lengthAdjust="spacingAndGlyphs" fill="#1e1e1e" color="#1e1e1e">caspase3</text>
<text x="6.30" y="516.70" font-size="8.0" textLength="39.00" lengthAdjust="spacingAndGlyphs" fill="#1e1e1e" color="#1e1e1e">c-caspase3</text>
<text x="17.50" y="545.90" font-size="8.0" textLength="27.80" lengthAdjust="spacingAndGlyphs" fill="#1e1e1e" color="#1e1e1e">GAPDH</text>
<rect x="48.50" y="386.50" width="59.30" height="23.50" fill="#f7f7f7" filter="url(#bl4)"/>
<rect x="116.50" y="386.50" width="61.50" height="23.50" fill="#f7f7f7" filter="url(#bl4)"/>
<rect x="48.50" y="411.50" width="59.30" height="24.50" fill="#f7f7f7" filter="url(#bl4)"/>
<rect x="116.50" y="411.50" width="61.50" height="24.50" fill="#f7f7f7" filter="url(#bl4)"/>
<rect x="48.50" y="439.50" width="59.30" height="24.50" fill="#f7f7f7" filter="url(#bl4)"/>
<rect x="116.50" y="439.50" width="61.50" height="24.50" fill="#f7f7f7" filter="url(#bl4)"/>
<rect x="48.50" y="469.50" width="59.30" height="24.50" fill="#f7f7f7" filter="url(#bl4)"/>
<rect x="116.50" y="469.50" width="61.50" height="24.50" fill="#f7f7f7" filter="url(#bl4)"/>
<rect x="48.50" y="499.00" width="59.30" height="24.00" fill="#f7f7f7" filter="url(#bl4)"/>
<rect x="116.50" y="499.00" width="61.50" height="24.00" fill="#f7f7f7" filter="url(#bl4)"/>
<rect x="48.50" y="530.00" width="59.30" height="22.00" fill="#f7f7f7" filter="url(#bl4)"/>
<rect x="116.50" y="530.00" width="61.50" height="22.00" fill="#f7f7f7" filter="url(#bl4)"/>
<ellipse cx="62.50" cy="398.00" rx="14.50" ry="10.60" fill="#000" fill-opacity="0.10" filter="url(#bl2)"/>
<rect x="49.50" y="389.90" width="26.00" height="16.20" rx="6.80" fill="#000" fill-opacity="1.0" filter="url(#bl)"/>
<ellipse cx="92.00" cy="396.90" rx="14.00" ry="10.00" fill="#000" fill-opacity="0.10" filter="url(#bl2)"/>
<rect x="79.50" y="389.40" width="25.00" height="15.00" rx="6.30" fill="#000" fill-opacity="1.0" filter="url(#bl)"/>
<ellipse cx="62.80" cy="421.90" rx="13.30" ry="12.20" fill="#000" fill-opacity="0.10" filter="url(#bl2)"/>
<rect x="51.00" y="412.20" width="23.60" height="19.40" rx="8.15" fill="#151515" fill-opacity="1.0" filter="url(#bl)"/>
<ellipse cx="62.85" cy="423.50" rx="12.85" ry="10.10" fill="#000" fill-opacity="0.10" filter="url(#bl2)"/>
<rect x="51.50" y="415.90" width="22.70" height="15.20" rx="6.38" fill="#000" fill-opacity="1.0" filter="url(#bl)"/>
<rect x="83.00" y="420.40" width="19.00" height="7.70" rx="3.23" fill="#000" fill-opacity="0.05" filter="url(#bl2)"/>
<rect x="53.00" y="440.00" width="22.00" height="8.00" fill="#888" filter="url(#bl2)" opacity="0.45"/>
<ellipse cx="65.00" cy="454.15" rx="14.00" ry="7.75" fill="#000" fill-opacity="0.10" filter="url(#bl2)"/>
<rect x="52.50" y="448.90" width="25.00" height="10.50" rx="4.41" fill="#000" fill-opacity="1.0" filter="url(#bl)"/>
<ellipse cx="93.10" cy="454.15" rx="13.40" ry="7.45" fill="#000" fill-opacity="0.10" filter="url(#bl2)"/>
<rect x="81.20" y="449.20" width="23.80" height="9.90" rx="4.16" fill="#000" fill-opacity="1.0" filter="url(#bl)"/>
<ellipse cx="62.75" cy="482.30" rx="14.25" ry="9.60" fill="#000" fill-opacity="0.10" filter="url(#bl2)"/>
<rect x="50.00" y="475.20" width="25.50" height="14.20" rx="5.96" fill="#000" fill-opacity="1.0" filter="url(#bl)"/>
<ellipse cx="92.50" cy="481.25" rx="14.50" ry="9.35" fill="#000" fill-opacity="0.10" filter="url(#bl2)"/>
<rect x="79.50" y="474.40" width="26.00" height="13.70" rx="5.75" fill="#000" fill-opacity="1.0" filter="url(#bl)"/>
<ellipse cx="61.85" cy="511.85" rx="12.15" ry="8.75" fill="#000" fill-opacity="0.10" filter="url(#bl2)"/>
<rect x="51.20" y="505.60" width="21.30" height="12.50" rx="5.25" fill="#000" fill-opacity="1.0" filter="url(#bl)"/>
<ellipse cx="91.75" cy="508.65" rx="12.25" ry="6.95" fill="#000" fill-opacity="0.10" filter="url(#bl2)"/>
<rect x="81.00" y="504.20" width="21.50" height="8.90" rx="3.74" fill="#000" fill-opacity="1.0" filter="url(#bl)"/>
<ellipse cx="64.35" cy="541.25" rx="13.35" ry="7.35" fill="#000" fill-opacity="0.10" filter="url(#bl2)"/>
<rect x="52.50" y="536.40" width="23.70" height="9.70" rx="4.07" fill="#000" fill-opacity="1.0" filter="url(#bl)"/>
<ellipse cx="91.40" cy="541.35" rx="13.90" ry="7.25" fill="#000" fill-opacity="0.10" filter="url(#bl2)"/>
<rect x="79.00" y="536.60" width="24.80" height="9.50" rx="3.99" fill="#000" fill-opacity="1.0" filter="url(#bl)"/>
<ellipse cx="130.90" cy="397.50" rx="13.60" ry="9.40" fill="#000" fill-opacity="0.10" filter="url(#bl2)"/>
<rect x="118.80" y="390.60" width="24.20" height="13.80" rx="5.80" fill="#000" fill-opacity="1.0" filter="url(#bl)"/>
<ellipse cx="162.50" cy="396.20" rx="13.50" ry="8.10" fill="#000" fill-opacity="0.10" filter="url(#bl2)"/>
<rect x="150.50" y="390.60" width="24.00" height="11.20" rx="4.70" fill="#000" fill-opacity="1.0" filter="url(#bl)"/>
<ellipse cx="132.15" cy="425.25" rx="13.15" ry="5.85" fill="#000" fill-opacity="0.10" filter="url(#bl2)"/>
<rect x="120.50" y="421.90" width="23.30" height="6.70" rx="2.81" fill="#000" fill-opacity="1.0" filter="url(#bl)"/>
<ellipse cx="162.00" cy="425.15" rx="14.00" ry="7.45" fill="#000" fill-opacity="0.10" filter="url(#bl2)"/>
<rect x="149.50" y="420.20" width="25.00" height="9.90" rx="4.16" fill="#000" fill-opacity="1.0" filter="url(#bl)"/>
<ellipse cx="131.50" cy="453.50" rx="14.50" ry="8.80" fill="#000" fill-opacity="0.10" filter="url(#bl2)"/>
<rect x="118.50" y="447.20" width="26.00" height="12.60" rx="5.29" fill="#000" fill-opacity="1.0" filter="url(#bl)"/>
<ellipse cx="163.60" cy="453.50" rx="14.10" ry="8.10" fill="#000" fill-opacity="0.10" filter="url(#bl2)"/>
<rect x="151.00" y="447.90" width="25.20" height="11.20" rx="4.70" fill="#000" fill-opacity="1.0" filter="url(#bl)"/>
<ellipse cx="132.85" cy="481.20" rx="14.85" ry="8.10" fill="#000" fill-opacity="0.10" filter="url(#bl2)"/>
<rect x="119.50" y="475.60" width="26.70" height="11.20" rx="4.70" fill="#000" fill-opacity="1.0" filter="url(#bl)"/>
<ellipse cx="161.90" cy="480.00" rx="14.60" ry="8.60" fill="#000" fill-opacity="0.10" filter="url(#bl2)"/>
<rect x="148.80" y="473.90" width="26.20" height="12.20" rx="5.12" fill="#000" fill-opacity="1.0" filter="url(#bl)"/>
<ellipse cx="130.35" cy="509.60" rx="12.35" ry="5.70" fill="#000" fill-opacity="0.10" filter="url(#bl2)"/>
<rect x="119.50" y="506.40" width="21.70" height="6.40" rx="2.69" fill="#000" fill-opacity="1.0" filter="url(#bl)"/>
<ellipse cx="162.50" cy="510.65" rx="14.50" ry="6.25" fill="#000" fill-opacity="0.10" filter="url(#bl2)"/>
<rect x="149.50" y="506.90" width="26.00" height="7.50" rx="3.15" fill="#000" fill-opacity="1.0" filter="url(#bl)"/>
<ellipse cx="132.50" cy="541.25" rx="14.00" ry="6.85" fill="#000" fill-opacity="0.10" filter="url(#bl2)"/>
<rect x="120.00" y="536.90" width="25.00" height="8.70" rx="3.65" fill="#000" fill-opacity="1.0" filter="url(#bl)"/>
<ellipse cx="160.00" cy="540.75" rx="14.00" ry="7.35" fill="#000" fill-opacity="0.10" filter="url(#bl2)"/>
<rect x="147.50" y="535.90" width="25.00" height="9.70" rx="4.07" fill="#000" fill-opacity="1.0" filter="url(#bl)"/>
<line x1="242.50" y1="393.80" x2="242.50" y2="498.10" stroke="#222" stroke-width="1.2"/>
<line x1="241.90" y1="497.50" x2="343.80" y2="497.50" stroke="#222" stroke-width="1.2"/>
<line x1="239.90" y1="497.60" x2="242.50" y2="497.60" stroke="#222" stroke-width="1"/>
<text x="236.70" y="499.90" font-size="7.9" text-anchor="end" fill="#1e1e1e" color="#1e1e1e">0</text>
<line x1="239.90" y1="464.00" x2="242.50" y2="464.00" stroke="#222" stroke-width="1"/>
<text x="236.70" y="466.30" font-size="7.9" text-anchor="end" fill="#1e1e1e" color="#1e1e1e">20</text>
<line x1="239.90" y1="430.40" x2="242.50" y2="430.40" stroke="#222" stroke-width="1"/>
<text x="236.70" y="432.70" font-size="7.9" text-anchor="end" fill="#1e1e1e" color="#1e1e1e">40</text>
<line x1="239.90" y1="396.80" x2="242.50" y2="396.80" stroke="#222" stroke-width="1"/>
<text x="236.70" y="399.10" font-size="7.9" text-anchor="end" fill="#1e1e1e" color="#1e1e1e">60</text>
<line x1="259.25" y1="497.50" x2="259.25" y2="500.20" stroke="#222" stroke-width="1"/>
<text x="259.25" y="511.20" font-size="8.4" text-anchor="middle" fill="#1e1e1e" color="#1e1e1e">G1</text>
<line x1="293.25" y1="497.50" x2="293.25" y2="500.20" stroke="#222" stroke-width="1"/>
<text x="293.25" y="511.20" font-size="8.4" text-anchor="middle" fill="#1e1e1e" color="#1e1e1e">S</text>
<line x1="326.25" y1="497.50" x2="326.25" y2="500.20" stroke="#222" stroke-width="1"/>
<text x="326.25" y="511.20" font-size="8.4" text-anchor="middle" fill="#1e1e1e" color="#1e1e1e">G2</text>
<text x="272.00" y="388.90" font-size="10.0" textLength="42.50" lengthAdjust="spacingAndGlyphs" fill="#1e1e1e" color="#1e1e1e">NCI-H929</text>
<text transform="translate(214.20,446.0) rotate(-90)" font-size="7.6" text-anchor="middle" fill="#1a1a1a" color="#1a1a1a" style="stroke-width:0.35px" textLength="74" lengthAdjust="spacingAndGlyphs">Cell cycle distribution (%)</text>
<circle cx="253.10" cy="438.10" r="2.1" fill="#1b4d8e"/>
<circle cx="250.60" cy="446.90" r="2.1" fill="#1b4d8e"/>
<circle cx="254.40" cy="445.60" r="2.1" fill="#1b4d8e"/>
<line x1="248.50" y1="444.00" x2="256.50" y2="444.00" stroke="#1b4d8e" stroke-width="1.0"/>
<line x1="250.30" y1="440.60" x2="254.70" y2="440.60" stroke="#1b4d8e" stroke-width="1.0"/>
<line x1="250.30" y1="447.40" x2="254.70" y2="447.40" stroke="#1b4d8e" stroke-width="1.0"/>
<line x1="252.50" y1="440.60" x2="252.50" y2="447.40" stroke="#1b4d8e" stroke-width="1.0"/>
<rect x="261.50" y="417.80" width="4.00" height="4.00" fill="#c8102e"/>
<rect x="265.80" y="421.10" width="4.00" height="4.00" fill="#c8102e"/>
<rect x="263.00" y="429.50" width="4.00" height="4.00" fill="#c8102e"/>
<line x1="261.60" y1="423.00" x2="269.60" y2="423.00" stroke="#c8102e" stroke-width="1.0"/>
<line x1="263.40" y1="419.40" x2="267.80" y2="419.40" stroke="#c8102e" stroke-width="1.0"/>
<line x1="263.40" y1="427.00" x2="267.80" y2="427.00" stroke="#c8102e" stroke-width="1.0"/>
<line x1="265.60" y1="419.40" x2="265.60" y2="427.00" stroke="#c8102e" stroke-width="1.0"/>
<circle cx="285.00" cy="405.00" r="2.1" fill="#1b4d8e"/>
<circle cx="288.10" cy="405.60" r="2.1" fill="#1b4d8e"/>
<circle cx="286.30" cy="408.80" r="2.1" fill="#1b4d8e"/>
<line x1="282.30" y1="406.40" x2="290.30" y2="406.40" stroke="#1b4d8e" stroke-width="1.0"/>
<line x1="284.10" y1="405.20" x2="288.50" y2="405.20" stroke="#1b4d8e" stroke-width="1.0"/>
<line x1="284.10" y1="407.60" x2="288.50" y2="407.60" stroke="#1b4d8e" stroke-width="1.0"/>
<line x1="286.30" y1="405.20" x2="286.30" y2="407.60" stroke="#1b4d8e" stroke-width="1.0"/>
<rect x="297.00" y="400.20" width="4.00" height="4.00" fill="#c8102e"/>
<rect x="294.90" y="426.10" width="4.00" height="4.00" fill="#c8102e"/>
<rect x="299.20" y="426.30" width="4.00" height="4.00" fill="#c8102e"/>
<line x1="295.10" y1="420.00" x2="303.10" y2="420.00" stroke="#c8102e" stroke-width="1.0"/>
<line x1="296.90" y1="411.00" x2="301.30" y2="411.00" stroke="#c8102e" stroke-width="1.0"/>
<line x1="296.90" y1="429.30" x2="301.30" y2="429.30" stroke="#c8102e" stroke-width="1.0"/>
<line x1="299.10" y1="411.00" x2="299.10" y2="429.30" stroke="#c8102e" stroke-width="1.0"/>
<circle cx="317.50" cy="473.00" r="2.1" fill="#1b4d8e"/>
<circle cx="321.30" cy="473.80" r="2.1" fill="#1b4d8e"/>
<circle cx="320.00" cy="478.00" r="2.1" fill="#1b4d8e"/>
<line x1="315.80" y1="475.00" x2="323.80" y2="475.00" stroke="#1b4d8e" stroke-width="1.0"/>
<line x1="317.60" y1="473.40" x2="322.00" y2="473.40" stroke="#1b4d8e" stroke-width="1.0"/>
<line x1="317.60" y1="476.60" x2="322.00" y2="476.60" stroke="#1b4d8e" stroke-width="1.0"/>
<line x1="319.80" y1="473.40" x2="319.80" y2="476.60" stroke="#1b4d8e" stroke-width="1.0"/>
<rect x="328.50" y="471.80" width="4.00" height="4.00" fill="#c8102e"/>
<rect x="333.00" y="473.80" width="4.00" height="4.00" fill="#c8102e"/>
<rect x="330.50" y="488.50" width="4.00" height="4.00" fill="#c8102e"/>
<line x1="328.80" y1="480.00" x2="336.80" y2="480.00" stroke="#c8102e" stroke-width="1.0"/>
<line x1="330.60" y1="474.60" x2="335.00" y2="474.60" stroke="#c8102e" stroke-width="1.0"/>
<line x1="330.60" y1="485.40" x2="335.00" y2="485.40" stroke="#c8102e" stroke-width="1.0"/>
<line x1="332.80" y1="474.60" x2="332.80" y2="485.40" stroke="#c8102e" stroke-width="1.0"/>
<circle cx="253.0" cy="471.8" r="2.1" fill="#1b4d8e"/>
<rect x="251.00" y="481.00" width="4.00" height="4.00" fill="#c8102e"/>
<text x="257.50" y="474.70" font-size="8.0" textLength="23.80" lengthAdjust="spacingAndGlyphs" fill="#1e1e1e" color="#1e1e1e">Control</text>
<text x="257.50" y="485.90" font-size="8.0" textLength="37.00" lengthAdjust="spacingAndGlyphs" fill="#1e1e1e" color="#1e1e1e">LILRB4-OE</text>
<line x1="249.40" y1="414.10" x2="264.00" y2="414.10" stroke="#333" stroke-width="1.1"/>
<text x="256.90" y="412.60" font-size="7.0" text-anchor="middle" fill="#1e1e1e" color="#1e1e1e">*</text>
<line x1="286.90" y1="398.80" x2="299.50" y2="398.80" stroke="#333" stroke-width="1.1"/>
<text x="293.20" y="396.60" font-size="7.0" text-anchor="middle" fill="#1e1e1e" color="#1e1e1e">ns</text>
<line x1="320.50" y1="462.00" x2="332.50" y2="462.00" stroke="#333" stroke-width="1.1"/>
<text x="326.50" y="459.90" font-size="7.0" text-anchor="middle" fill="#1e1e1e" color="#1e1e1e">ns</text>
<line x1="407.20" y1="389.50" x2="407.20" y2="498.10" stroke="#222" stroke-width="1.2"/>
<line x1="406.60" y1="497.50" x2="512.50" y2="497.50" stroke="#222" stroke-width="1.2"/>
<line x1="404.60" y1="497.50" x2="407.20" y2="497.50" stroke="#222" stroke-width="1"/>
<text x="401.40" y="499.80" font-size="7.9" text-anchor="end" fill="#1e1e1e" color="#1e1e1e">0</text>
<line x1="404.60" y1="471.25" x2="407.20" y2="471.25" stroke="#222" stroke-width="1"/>
<text x="401.40" y="473.55" font-size="7.9" text-anchor="end" fill="#1e1e1e" color="#1e1e1e">20</text>
<line x1="404.60" y1="445.00" x2="407.20" y2="445.00" stroke="#222" stroke-width="1"/>
<text x="401.40" y="447.30" font-size="7.9" text-anchor="end" fill="#1e1e1e" color="#1e1e1e">40</text>
<line x1="404.60" y1="418.75" x2="407.20" y2="418.75" stroke="#222" stroke-width="1"/>
<text x="401.40" y="421.05" font-size="7.9" text-anchor="end" fill="#1e1e1e" color="#1e1e1e">60</text>
<line x1="404.60" y1="392.50" x2="407.20" y2="392.50" stroke="#222" stroke-width="1"/>
<text x="401.40" y="394.80" font-size="7.9" text-anchor="end" fill="#1e1e1e" color="#1e1e1e">80</text>
<line x1="425.00" y1="497.50" x2="425.00" y2="500.20" stroke="#222" stroke-width="1"/>
<text x="425.00" y="511.20" font-size="8.4" text-anchor="middle" fill="#1e1e1e" color="#1e1e1e">G1</text>
<line x1="460.50" y1="497.50" x2="460.50" y2="500.20" stroke="#222" stroke-width="1"/>
<text x="460.50" y="511.20" font-size="8.4" text-anchor="middle" fill="#1e1e1e" color="#1e1e1e">S</text>
<line x1="495.00" y1="497.50" x2="495.00" y2="500.20" stroke="#222" stroke-width="1"/>
<text x="495.00" y="511.20" font-size="8.4" text-anchor="middle" fill="#1e1e1e" color="#1e1e1e">G2</text>
<text x="437.00" y="388.90" font-size="10.0" textLength="41.80" lengthAdjust="spacingAndGlyphs" fill="#1e1e1e" color="#1e1e1e">NCI-H929</text>
<text transform="translate(386.90,446.0) rotate(-90)" font-size="7.6" text-anchor="middle" fill="#1a1a1a" color="#1a1a1a" style="stroke-width:0.35px" textLength="74" lengthAdjust="spacingAndGlyphs">Cell cycle distribution (%)</text>
<circle cx="418.80" cy="432.90" r="2.1" fill="#3ba3dc"/>
<circle cx="416.30" cy="444.20" r="2.1" fill="#3ba3dc"/>
<circle cx="420.50" cy="441.20" r="2.1" fill="#3ba3dc"/>
<line x1="414.50" y1="439.50" x2="422.50" y2="439.50" stroke="#3ba3dc" stroke-width="1.0"/>
<line x1="416.30" y1="435.50" x2="420.70" y2="435.50" stroke="#3ba3dc" stroke-width="1.0"/>
<line x1="416.30" y1="443.50" x2="420.70" y2="443.50" stroke="#3ba3dc" stroke-width="1.0"/>
<line x1="418.50" y1="435.50" x2="418.50" y2="443.50" stroke="#3ba3dc" stroke-width="1.0"/>
<rect x="428.30" y="450.20" width="4.00" height="4.00" fill="#f0931e"/>
<rect x="430.30" y="450.90" width="4.00" height="4.00" fill="#f0931e"/>
<rect x="429.30" y="451.50" width="4.00" height="4.00" fill="#f0931e"/>
<line x1="427.30" y1="452.90" x2="435.30" y2="452.90" stroke="#f0931e" stroke-width="1.0"/>
<line x1="429.10" y1="452.00" x2="433.50" y2="452.00" stroke="#f0931e" stroke-width="1.0"/>
<line x1="429.10" y1="453.80" x2="433.50" y2="453.80" stroke="#f0931e" stroke-width="1.0"/>
<line x1="431.30" y1="452.00" x2="431.30" y2="453.80" stroke="#f0931e" stroke-width="1.0"/>
<circle cx="452.50" cy="433.80" r="2.1" fill="#3ba3dc"/>
<circle cx="455.50" cy="434.50" r="2.1" fill="#3ba3dc"/>
<circle cx="453.50" cy="436.20" r="2.1" fill="#3ba3dc"/>
<line x1="450.00" y1="434.80" x2="458.00" y2="434.80" stroke="#3ba3dc" stroke-width="1.0"/>
<line x1="451.80" y1="434.00" x2="456.20" y2="434.00" stroke="#3ba3dc" stroke-width="1.0"/>
<line x1="451.80" y1="435.60" x2="456.20" y2="435.60" stroke="#3ba3dc" stroke-width="1.0"/>
<line x1="454.00" y1="434.00" x2="454.00" y2="435.60" stroke="#3ba3dc" stroke-width="1.0"/>
<rect x="464.30" y="412.50" width="4.00" height="4.00" fill="#f0931e"/>
<rect x="464.30" y="423.00" width="4.00" height="4.00" fill="#f0931e"/>
<rect x="464.30" y="429.20" width="4.00" height="4.00" fill="#f0931e"/>
<line x1="462.30" y1="423.80" x2="470.30" y2="423.80" stroke="#f0931e" stroke-width="1.0"/>
<line x1="464.10" y1="419.00" x2="468.50" y2="419.00" stroke="#f0931e" stroke-width="1.0"/>
<line x1="464.10" y1="428.60" x2="468.50" y2="428.60" stroke="#f0931e" stroke-width="1.0"/>
<line x1="466.30" y1="419.00" x2="466.30" y2="428.60" stroke="#f0931e" stroke-width="1.0"/>
<circle cx="486.30" cy="481.80" r="2.1" fill="#3ba3dc"/>
<circle cx="491.30" cy="482.50" r="2.1" fill="#3ba3dc"/>
<circle cx="489.30" cy="495.50" r="2.1" fill="#3ba3dc"/>
<line x1="485.00" y1="487.00" x2="493.00" y2="487.00" stroke="#3ba3dc" stroke-width="1.0"/>
<line x1="486.80" y1="482.60" x2="491.20" y2="482.60" stroke="#3ba3dc" stroke-width="1.0"/>
<line x1="486.80" y1="491.40" x2="491.20" y2="491.40" stroke="#3ba3dc" stroke-width="1.0"/>
<line x1="489.00" y1="482.60" x2="489.00" y2="491.40" stroke="#3ba3dc" stroke-width="1.0"/>
<rect x="497.30" y="476.20" width="4.00" height="4.00" fill="#f0931e"/>
<rect x="502.30" y="480.50" width="4.00" height="4.00" fill="#f0931e"/>
<rect x="499.80" y="491.80" width="4.00" height="4.00" fill="#f0931e"/>
<line x1="497.80" y1="485.50" x2="505.80" y2="485.50" stroke="#f0931e" stroke-width="1.0"/>
<line x1="499.60" y1="480.50" x2="504.00" y2="480.50" stroke="#f0931e" stroke-width="1.0"/>
<line x1="499.60" y1="490.50" x2="504.00" y2="490.50" stroke="#f0931e" stroke-width="1.0"/>
<line x1="501.80" y1="480.50" x2="501.80" y2="490.50" stroke="#f0931e" stroke-width="1.0"/>
<circle cx="418.0" cy="471.4" r="2.1" fill="#3ba3dc"/>
<rect x="416.00" y="480.60" width="4.00" height="4.00" fill="#f0931e"/>
<text x="422.50" y="474.30" font-size="8.0" textLength="23.80" lengthAdjust="spacingAndGlyphs" fill="#1e1e1e" color="#1e1e1e">Control</text>
<text x="422.50" y="485.50" font-size="8.0" textLength="37.00" lengthAdjust="spacingAndGlyphs" fill="#1e1e1e" color="#1e1e1e">LILRB4-KO</text>
<line x1="415.50" y1="426.20" x2="427.50" y2="426.20" stroke="#333" stroke-width="1.1"/>
<text x="421.30" y="424.80" font-size="7.0" text-anchor="middle" fill="#1e1e1e" color="#1e1e1e">*</text>
<line x1="449.50" y1="406.20" x2="466.30" y2="406.20" stroke="#333" stroke-width="1.1"/>
<text x="458.00" y="404.00" font-size="7.0" text-anchor="middle" fill="#1e1e1e" color="#1e1e1e">ns</text>
<line x1="489.50" y1="470.50" x2="502.50" y2="470.50" stroke="#333" stroke-width="1.1"/>
<text x="496.00" y="468.40" font-size="7.0" text-anchor="middle" fill="#1e1e1e" color="#1e1e1e">ns</text>
<rect x="0.5" y="0.5" width="519" height="560" fill="none" stroke="#606060" stroke-width="1"/>
</svg></body></html>
